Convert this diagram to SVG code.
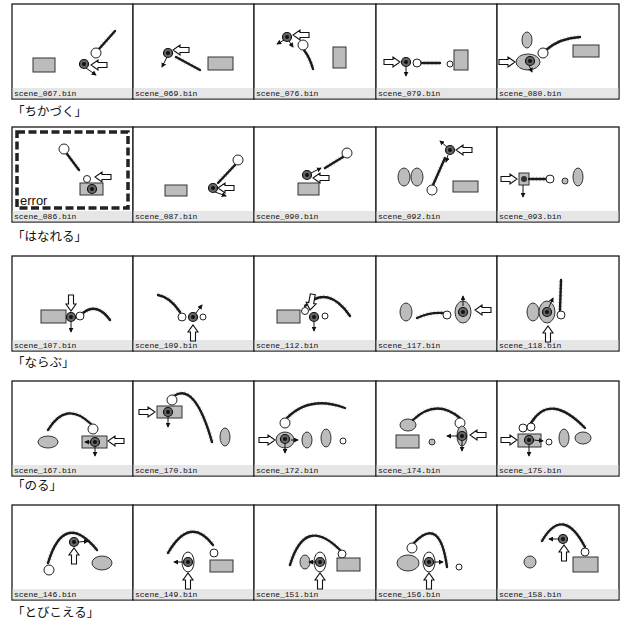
<svg xmlns="http://www.w3.org/2000/svg" xmlns:xlink="http://www.w3.org/1999/xlink" width="626" height="628" viewBox="0 0 626 628">
<style>
.pf{fill:#fff;stroke:#1a1a1a;stroke-width:1.3}
.st{fill:#e6e6e6}
.fn{font-family:"Liberation Mono",monospace;font-size:8px;fill:#111}
.jl{font-family:"Liberation Sans","Noto Sans CJK JP",sans-serif;font-size:12.5px;fill:#111}
.ob{fill:#bcbcbc;stroke:#333;stroke-width:1}
.oh{fill:#fff;stroke:#222;stroke-width:1}
.hc{fill:#fff;stroke:#222;stroke-width:1}
.tr{fill:none;stroke:#1a1a1a;stroke-width:2.4;stroke-linecap:round}
.fz{fill:none;stroke:#888;stroke-width:5;stroke-dasharray:1 2.5;opacity:.35}
.sa{fill:none;stroke:#111;stroke-width:1;marker-end:url(#ah)}
.ha{fill:#fff;stroke:#111;stroke-width:1.1}
.err{fill:none;stroke:#222;stroke-width:3.5;stroke-dasharray:8 3.5}
.et{font-family:"Liberation Sans",sans-serif;font-size:13px;fill:#111}
</style>
<defs>
<marker id="ah" viewBox="0 0 6 6" refX="5" refY="3" markerWidth="5" markerHeight="5" orient="auto" markerUnits="userSpaceOnUse"><path d="M0,0L6,3L0,6Z" fill="#111"/></marker>
<path id="har" d="M-16,-2.5H-7V-5L0,0L-7,5V2.5H-16Z"/>
<g id="ag"><circle r="4.5" fill="#666" stroke="#111" stroke-width="1.2"/><circle r="2" fill="#111"/></g>
</defs>

<g id="row1">
<g id="p067">
<rect class="pf" x="12" y="4" width="121" height="95"/><rect class="st" x="12.7" y="88" width="119.6" height="10.3"/><text class="fn" x="14" y="96">scene_067.bin</text>
<rect class="ob" x="33" y="58" width="22" height="14"/>
<path class="fz" d="M99,49L115,31"/><path class="tr" d="M99,49L115,31"/>
<circle class="hc" cx="96" cy="53" r="5"/>
<use href="#ag" x="84" y="64"/>
<use href="#har" class="ha" transform="translate(91,65) rotate(180)"/>
<path class="sa" d="M86,68L96,75"/>
</g>
<g id="p069">
<rect class="pf" x="133" y="4" width="121" height="95"/><rect class="st" x="133.7" y="88" width="119.6" height="10.3"/><text class="fn" x="135" y="96">scene_069.bin</text>
<path class="fz" d="M176,57L200,70"/><path class="tr" d="M176,57L200,70"/>
<use href="#ag" x="168" y="53"/>
<path class="sa" d="M167,57L162,67"/>
<use href="#har" class="ha" transform="translate(173,50) rotate(180)"/>
<rect class="ob" x="208" y="57" width="25" height="13"/>
</g>
<g id="p076">
<rect class="pf" x="254" y="4" width="122" height="95"/><rect class="st" x="254.7" y="88" width="120.6" height="10.3"/><text class="fn" x="256" y="96">scene_076.bin</text>
<path class="fz" d="M304,50Q310,58 313,69"/><path class="tr" d="M304,50Q310,58 313,69"/>
<circle class="hc" cx="303" cy="45" r="5"/>
<use href="#ag" x="287" y="37"/>
<use href="#har" class="ha" transform="translate(293,35) rotate(180)"/>
<path class="sa" d="M284,40L277,44"/>
<path class="sa" d="M289,41L293,47"/>
<rect class="ob" x="333" y="47" width="13" height="21"/>
</g>
<g id="p079">
<rect class="pf" x="376" y="4" width="121" height="95"/><rect class="st" x="376.7" y="88" width="119.6" height="10.3"/><text class="fn" x="378" y="96">scene_079.bin</text>
<use href="#har" class="ha" transform="translate(400,62)"/>
<path class="fz" d="M421,63L440,63"/><path class="tr" d="M421,63L440,63"/>
<circle class="hc" cx="417" cy="63" r="4"/>
<use href="#ag" x="406" y="62"/>
<path class="sa" d="M406,67L406,76"/>
<circle class="hc" cx="450" cy="64" r="3"/>
<rect class="ob" x="454" y="50" width="14" height="20"/>
</g>
<g id="p080">
<rect class="pf" x="497" y="4" width="122" height="95"/><rect class="st" x="497.7" y="88" width="120.6" height="10.3"/><text class="fn" x="499" y="96">scene_080.bin</text>
<ellipse class="ob" cx="527" cy="40" rx="5" ry="8"/>
<use href="#har" class="ha" transform="translate(515,62)"/>
<ellipse class="ob" cx="528" cy="62" rx="12" ry="8"/>
<use href="#ag" x="530" y="61"/>
<path class="sa" d="M529,65L532,72"/>
<path class="fz" d="M546,50Q560,38 580,37"/><path class="tr" d="M546,50Q560,38 580,37"/>
<circle class="hc" cx="543" cy="53" r="5"/>
<rect class="ob" x="573" y="45" width="26" height="12"/>
</g>
</g>
<text class="jl" x="12" y="116">「ちかづく」</text>

<g id="row2">
<g id="p086">
<rect class="pf" x="12" y="127" width="121" height="95"/><rect class="st" x="12.7" y="211" width="119.6" height="10.3"/><text class="fn" x="14" y="219">scene_086.bin</text>
<rect class="err" x="17" y="132" width="111" height="76"/>
<text class="et" x="20" y="205">error</text>
<path class="fz" d="M67,154L79,170"/><path class="tr" d="M67,154L79,170"/>
<circle class="hc" cx="64" cy="149" r="5"/>
<rect class="ob" x="80" y="183" width="23" height="12"/>
<use href="#ag" x="92" y="189"/>
<circle class="hc" cx="87" cy="179" r="3.5"/>
<use href="#har" class="ha" transform="translate(95,177) rotate(180)"/>
</g>
<g id="p087">
<rect class="pf" x="133" y="127" width="121" height="95"/><rect class="st" x="133.7" y="211" width="119.6" height="10.3"/><text class="fn" x="135" y="219">scene_087.bin</text>
<rect class="ob" x="165" y="185" width="22" height="11"/>
<path class="fz" d="M235,165L218,183"/><path class="tr" d="M235,165L218,183"/>
<circle class="hc" cx="238" cy="160" r="5"/>
<use href="#ag" x="213" y="188"/>
<use href="#har" class="ha" transform="translate(218,188) rotate(180)"/>
<path class="sa" d="M215,192L226,196"/>
</g>
<g id="p090">
<rect class="pf" x="254" y="127" width="122" height="95"/><rect class="st" x="254.7" y="211" width="120.6" height="10.3"/><text class="fn" x="256" y="219">scene_090.bin</text>
<rect class="ob" x="298" y="183" width="21" height="12"/>
<path class="fz" d="M343,157L325,168"/><path class="tr" d="M343,157L325,168"/>
<circle class="hc" cx="347" cy="153" r="5"/>
<use href="#ag" x="307" y="175"/>
<path class="sa" d="M311,173L321,168"/>
<use href="#har" class="ha" transform="translate(313,178) rotate(180)"/>
</g>
<g id="p092">
<rect class="pf" x="376" y="127" width="121" height="95"/><rect class="st" x="376.7" y="211" width="119.6" height="10.3"/><text class="fn" x="378" y="219">scene_092.bin</text>
<ellipse class="ob" cx="404" cy="177" rx="6" ry="9"/>
<ellipse class="ob" cx="417" cy="177" rx="6" ry="9"/>
<path class="fz" d="M445,158L433,185"/><path class="tr" d="M445,158L433,185"/>
<circle class="hc" cx="432" cy="190" r="5"/>
<use href="#ag" x="450" y="150"/>
<path class="sa" d="M447,147L440,141"/>
<path class="sa" d="M448,155L446,162"/>
<use href="#har" class="ha" transform="translate(456,150) rotate(180)"/>
<rect class="ob" x="453" y="181" width="25" height="11"/>
</g>
<g id="p093">
<rect class="pf" x="497" y="127" width="122" height="95"/><rect class="st" x="497.7" y="211" width="120.6" height="10.3"/><text class="fn" x="499" y="219">scene_093.bin</text>
<use href="#har" class="ha" transform="translate(517,179)"/>
<rect class="ob" x="519" y="173" width="10" height="12"/>
<circle cx="524" cy="179" r="3" fill="#333"/>
<path class="sa" d="M523,185L523,197"/>
<path class="fz" d="M529,179L547,179"/><path class="tr" d="M529,179L547,179"/>
<circle class="hc" cx="550" cy="179" r="4"/>
<circle class="ob" cx="565" cy="181" r="3"/>
<ellipse class="ob" cx="578" cy="177" rx="5" ry="9"/>
</g>
</g>
<text class="jl" x="12" y="241">「はなれる」</text>

<g id="row3">
<g id="p107">
<rect class="pf" x="12" y="256" width="121" height="95"/><rect class="st" x="12.7" y="340" width="119.6" height="10.3"/><text class="fn" x="14" y="348">scene_107.bin</text>
<rect class="ob" x="41" y="310" width="25" height="13"/>
<use href="#har" class="ha" transform="translate(71,311) rotate(90)"/>
<path class="fz" d="M83,313Q97,302 110,320"/><path class="tr" d="M83,313Q97,302 110,320"/>
<circle class="hc" cx="80" cy="316" r="4"/>
<use href="#ag" x="71" y="317"/>
<path class="sa" d="M71,322L71,332"/>
</g>
<g id="p109">
<rect class="pf" x="133" y="256" width="121" height="95"/><rect class="st" x="133.7" y="340" width="119.6" height="10.3"/><text class="fn" x="135" y="348">scene_109.bin</text>
<path class="fz" d="M158,295Q170,297 180,312"/><path class="tr" d="M158,295Q170,297 180,312"/>
<circle class="hc" cx="182" cy="317" r="4"/>
<use href="#ag" x="193" y="317"/>
<path class="sa" d="M196,313L202,305"/>
<circle class="hc" cx="203" cy="317" r="3"/>
<use href="#har" class="ha" transform="translate(193,325) rotate(-90)"/>
</g>
<g id="p112">
<rect class="pf" x="254" y="256" width="122" height="95"/><rect class="st" x="254.7" y="340" width="120.6" height="10.3"/><text class="fn" x="256" y="348">scene_112.bin</text>
<rect class="ob" x="277" y="310" width="23" height="13"/>
<path class="fz" d="M305,306Q328,284 350,316"/><path class="tr" d="M305,306Q328,284 350,316"/>
<circle class="hc" cx="305" cy="311" r="3.5"/>
<use href="#har" class="ha" transform="translate(310,310) rotate(100)"/>
<use href="#ag" x="314" y="317"/>
<path class="sa" d="M314,322L314,331"/>
<circle class="hc" cx="325" cy="316" r="3"/>
</g>
<g id="p117">
<rect class="pf" x="376" y="256" width="121" height="95"/><rect class="st" x="376.7" y="340" width="119.6" height="10.3"/><text class="fn" x="378" y="348">scene_117.bin</text>
<ellipse class="ob" cx="406" cy="312" rx="6" ry="9"/>
<path class="fz" d="M417,318Q430,312 443,313"/><path class="tr" d="M417,318Q430,312 443,313"/>
<circle class="hc" cx="447" cy="315" r="4"/>
<ellipse class="ob" cx="463" cy="312" rx="8" ry="11"/>
<use href="#ag" x="463" y="312"/>
<path class="sa" d="M463,306L463,296"/>
<use href="#har" class="ha" transform="translate(475,310) rotate(180)"/>
</g>
<g id="p118">
<rect class="pf" x="497" y="256" width="122" height="95"/><rect class="st" x="497.7" y="340" width="120.6" height="10.3"/><text class="fn" x="499" y="348">scene_118.bin</text>
<ellipse class="ob" cx="533" cy="312" rx="6" ry="9"/>
<ellipse class="ob" cx="547" cy="312" rx="8" ry="11"/>
<use href="#ag" x="547" y="312"/>
<path class="fz" d="M560,310L561,280"/><path class="tr" d="M560,310L561,280"/>
<circle class="hc" cx="561" cy="315" r="4"/>
<path class="sa" d="M549,307L553,298"/>
<use href="#har" class="ha" transform="translate(548,326) rotate(-90)"/>
</g>
</g>
<text class="jl" x="12" y="367">「ならぶ」</text>

<g id="row4">
<g id="p167">
<rect class="pf" x="12" y="381" width="121" height="95"/><rect class="st" x="12.7" y="465" width="119.6" height="10.3"/><text class="fn" x="14" y="473">scene_167.bin</text>
<ellipse class="ob" cx="48" cy="442" rx="10" ry="6"/>
<path class="fz" d="M48,430Q66,400 91,424"/><path class="tr" d="M48,430Q66,400 91,424"/>
<circle class="hc" cx="93" cy="429" r="5"/>
<rect class="ob" x="82" y="436" width="25" height="12"/>
<use href="#ag" x="95" y="442"/>
<path class="sa" d="M91,442L85,442"/>
<path class="sa" d="M95,447L95,456"/>
<use href="#har" class="ha" transform="translate(108,441) rotate(180)"/>
</g>
<g id="p170">
<rect class="pf" x="133" y="381" width="121" height="95"/><rect class="st" x="133.7" y="465" width="119.6" height="10.3"/><text class="fn" x="135" y="473">scene_170.bin</text>
<use href="#har" class="ha" transform="translate(155,412)"/>
<rect class="ob" x="157" y="406" width="25" height="12"/>
<path class="fz" d="M174,396Q195,382 212,442"/><path class="tr" d="M174,396Q195,382 212,442"/>
<circle class="hc" cx="172" cy="400" r="5"/>
<use href="#ag" x="168" y="412"/>
<path class="sa" d="M168,417L168,427"/>
<ellipse class="ob" cx="225" cy="437" rx="5" ry="9"/>
</g>
<g id="p172">
<rect class="pf" x="254" y="381" width="122" height="95"/><rect class="st" x="254.7" y="465" width="120.6" height="10.3"/><text class="fn" x="256" y="473">scene_172.bin</text>
<use href="#har" class="ha" transform="translate(275,440)"/>
<ellipse class="ob" cx="285" cy="440" rx="9" ry="8"/>
<use href="#ag" x="285" y="439"/>
<path class="sa" d="M285,444L285,453"/>
<path class="sa" d="M291,440L298,440"/>
<ellipse class="ob" cx="307" cy="440" rx="5" ry="8"/>
<ellipse class="ob" cx="326" cy="438" rx="5" ry="9"/>
<circle class="hc" cx="343" cy="441" r="3"/>
<path class="fz" d="M287,418Q310,395 345,408"/><path class="tr" d="M287,418Q310,395 345,408"/>
<circle class="hc" cx="285" cy="423" r="5"/>
</g>
<g id="p174">
<rect class="pf" x="376" y="381" width="121" height="95"/><rect class="st" x="376.7" y="465" width="119.6" height="10.3"/><text class="fn" x="378" y="473">scene_174.bin</text>
<ellipse class="ob" cx="408" cy="425" rx="8" ry="6"/>
<path class="fz" d="M413,420Q436,398 460,418"/><path class="tr" d="M413,420Q436,398 460,418"/>
<circle class="hc" cx="460" cy="423" r="5"/>
<rect class="ob" x="396" y="435" width="23" height="13"/>
<circle class="ob" cx="432" cy="442" r="3"/>
<ellipse class="ob" cx="462" cy="436" rx="5" ry="10"/>
<use href="#ag" x="462" y="436"/>
<path class="sa" d="M457,436L447,436"/>
<path class="sa" d="M462,441L462,451"/>
<use href="#har" class="ha" transform="translate(470,435) rotate(180)"/>
</g>
<g id="p175">
<rect class="pf" x="497" y="381" width="122" height="95"/><rect class="st" x="497.7" y="465" width="120.6" height="10.3"/><text class="fn" x="499" y="473">scene_175.bin</text>
<use href="#har" class="ha" transform="translate(517,440)"/>
<rect class="ob" x="518" y="434" width="23" height="13"/>
<path class="fz" d="M531,423Q550,392 585,428"/><path class="tr" d="M531,423Q550,392 585,428"/>
<circle class="hc" cx="523" cy="428" r="4"/>
<circle class="hc" cx="531" cy="427" r="4"/>
<use href="#ag" x="529" y="440"/>
<path class="sa" d="M529,445L529,456"/>
<path class="sa" d="M534,440L543,441"/>
<circle class="hc" cx="549" cy="442" r="3"/>
<ellipse class="ob" cx="564" cy="438" rx="5" ry="9"/>
<ellipse class="ob" cx="583" cy="438" rx="8" ry="6"/>
</g>
</g>
<text class="jl" x="12" y="490">「のる」</text>

<g id="row5">
<g id="p146">
<rect class="pf" x="12" y="505" width="121" height="95"/><rect class="st" x="12.7" y="589" width="119.6" height="10.3"/><text class="fn" x="14" y="597">scene_146.bin</text>
<path class="fz" d="M48,563Q64,510 97,550"/><path class="tr" d="M48,563Q64,510 97,550"/>
<circle class="hc" cx="49" cy="570" r="5"/>
<use href="#ag" x="74" y="542"/>
<path class="sa" d="M79,542L88,541"/>
<use href="#har" class="ha" transform="translate(74,548) rotate(-90)"/>
<ellipse class="ob" cx="102" cy="563" rx="10" ry="7"/>
</g>
<g id="p149">
<rect class="pf" x="133" y="505" width="121" height="95"/><rect class="st" x="133.7" y="589" width="119.6" height="10.3"/><text class="fn" x="135" y="597">scene_149.bin</text>
<path class="fz" d="M168,553Q190,515 213,545"/><path class="tr" d="M168,553Q190,515 213,545"/>
<circle class="hc" cx="214" cy="553" r="4"/>
<rect class="ob" x="210" y="560" width="23" height="12"/>
<ellipse class="oh" cx="188" cy="562" rx="6" ry="10"/>
<use href="#ag" x="188" y="562"/>
<path class="sa" d="M184,562L174,562"/>
<use href="#har" class="ha" transform="translate(188,573) rotate(-90)"/>
</g>
<g id="p151">
<rect class="pf" x="254" y="505" width="122" height="95"/><rect class="st" x="254.7" y="589" width="120.6" height="10.3"/><text class="fn" x="256" y="597">scene_151.bin</text>
<path class="fz" d="M290,565Q305,515 340,550"/><path class="tr" d="M290,565Q305,515 340,550"/>
<circle class="hc" cx="342" cy="554" r="4"/>
<rect class="ob" x="337" y="558" width="23" height="13"/>
<ellipse class="ob" cx="305" cy="562" rx="5" ry="7"/>
<ellipse class="oh" cx="320" cy="562" rx="6" ry="10"/>
<use href="#ag" x="320" y="562"/>
<path class="sa" d="M316,562L309,562"/>
<use href="#har" class="ha" transform="translate(320,573) rotate(-90)"/>
</g>
<g id="p156">
<rect class="pf" x="376" y="505" width="121" height="95"/><rect class="st" x="376.7" y="589" width="119.6" height="10.3"/><text class="fn" x="378" y="597">scene_156.bin</text>
<path class="fz" d="M414,543Q440,515 447,567"/><path class="tr" d="M414,543Q440,515 447,567"/>
<circle class="hc" cx="412" cy="548" r="5"/>
<ellipse class="ob" cx="408" cy="563" rx="11" ry="8"/>
<ellipse class="oh" cx="429" cy="562" rx="6" ry="10"/>
<use href="#ag" x="429" y="562"/>
<path class="sa" d="M434,562L443,562"/>
<use href="#har" class="ha" transform="translate(429,573) rotate(-90)"/>
<circle class="hc" cx="459" cy="567" r="3"/>
</g>
<g id="p158">
<rect class="pf" x="497" y="505" width="122" height="95"/><rect class="st" x="497.7" y="589" width="120.6" height="10.3"/><text class="fn" x="499" y="597">scene_158.bin</text>
<path class="fz" d="M542,541Q563,505 585,547"/><path class="tr" d="M542,541Q563,505 585,547"/>
<use href="#ag" x="563" y="539"/>
<path class="sa" d="M558,539L549,539"/>
<use href="#har" class="ha" transform="translate(564,545) rotate(-90)"/>
<circle class="ob" cx="530" cy="562" r="6"/>
<circle class="hc" cx="585" cy="552" r="4"/>
<rect class="ob" x="573" y="557" width="25" height="15"/>
</g>
</g>
<text class="jl" x="12" y="617">「とびこえる」</text>
</svg>
